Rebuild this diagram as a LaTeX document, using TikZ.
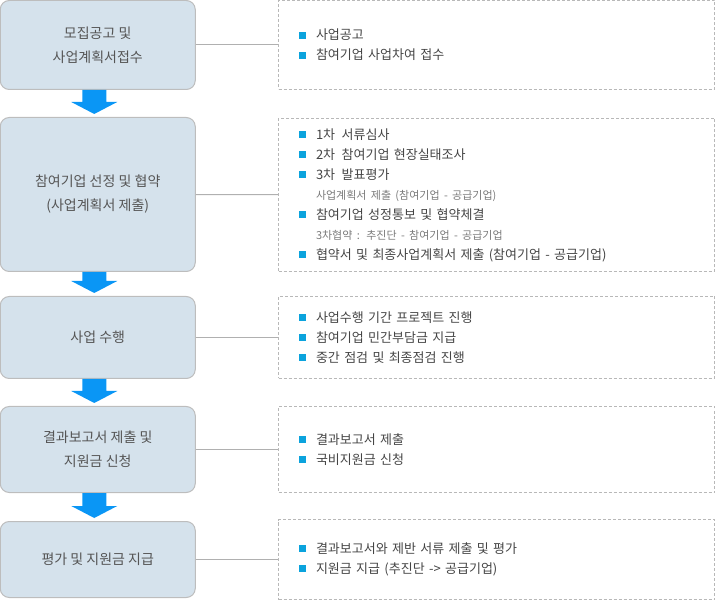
\documentclass[tikz,border=0pt]{standalone}
\usepackage{fontspec}
\setmainfont{Noto Sans CJK KR}

\definecolor{stepfill}{HTML}{D5E2EC}
\definecolor{stepline}{HTML}{BDBDBD}
\definecolor{steptxt}{HTML}{555555}
\definecolor{noteline}{HTML}{B8B8B8}
\definecolor{notetxt}{HTML}{454545}
\definecolor{subtxt}{HTML}{7A7A7A}
\definecolor{linkgray}{HTML}{B0B0B0}
\definecolor{flowblue}{HTML}{0A96F5}
\definecolor{dotblue}{HTML}{0BA3DD}

\newcommand{\itm}[1]{\textcolor{dotblue}{\raisebox{1.2pt}{\rule{7pt}{7pt}}}\hspace{10pt}#1}
\newcommand{\itmnote}[1]{\hspace*{17pt}{\fontsize{11pt}{20pt}\selectfont\color{subtxt}#1}}

\tikzset{
	stepbox/.style={draw=stepline,fill=stepfill,line width=1pt,rounded corners=9pt,minimum width=195pt,align=center,text=steptxt,font=\fontsize{14pt}{24pt}\selectfont},
	notebox/.style={draw=noteline,line width=1pt,dash pattern=on 3pt off 2pt,text width=395pt,inner xsep=20.5pt,align=left,text=notetxt,font=\fontsize{13pt}{20pt}\selectfont},
	link/.style={draw=linkgray,line width=1pt},
	flow/.style={fill=flowblue}
}

\begin{document}
\begin{tikzpicture}[x=1pt,y=-1pt]
	\useasboundingbox (0,0) rectangle (715,601);

	\node[stepbox,minimum height=89pt](b1) at (97.75,45) {모집공고 및\\사업계획서접수};
	\node[stepbox,minimum height=154pt](b2) at (97.75,194.5) {참여기업 선정 및 협약\\(사업계획서 제출)};
	\node[stepbox,minimum height=82pt](b3) at (97.75,337.5) {사업 수행};
	\node[stepbox,minimum height=86pt](b4) at (97.75,449.5) {결과보고서 제출 및\\지원금 신청};
	\node[stepbox,minimum height=76pt](b5) at (97.75,559.5) {평가 및 지원금 지급};

	\node[notebox,minimum height=89pt](r1) at (496.5,45) {\itm{사업공고}\\\itm{참여기업 사업차여 접수}};
	\node[notebox,minimum height=153pt](r2) at (496.5,195) {\itm{1차\, 서류심사}\\\itm{2차\, 참여기업 현장실태조사}\\\itm{3차\, 발표평가}\\\itmnote{사업계획서 제출 (참여기업 - 공급기업)}\\\itm{참여기업 성정통보 및 협약체결}\\\itmnote{3차협약 : 추진단 - 참여기업 - 공급기업}\\\itm{협약서 및 최종사업계획서 제출 (참여기업 - 공급기업)}};
	\node[notebox,minimum height=82pt](r3) at (496.5,337.5) {\itm{사업수행 기간 프로젝트 진행}\\\itm{참여기업 민간부담금 지급}\\\itm{중간 점검 및 최종점검 진행}};
	\node[notebox,minimum height=86pt](r4) at (496.5,449.5) {\itm{결과보고서 제출}\\\itm{국비지원금 신청}};
	\node[notebox,minimum height=80pt](r5) at (496.5,559.5) {\itm{결과보고서와 제반 서류 제출 및 평가}\\\itm{지원금 지급 (추진단 -> 공급기업)}};

	\foreach \n in {1,...,5}
		\draw[link] (b\n) -- (r\n);

	\foreach \a/\b in {b1/b2,b2/b3,b3/b4,b4/b5}
		\fill[flow] ([xshift=-15.5]\a.south) -- ([xshift=8.5]\a.south) -- ([xshift=8.5,yshift=15]\b.north) -- ([xshift=19.5,yshift=15]\b.north) -- ([xshift=-3.5,yshift=3]\b.north) -- ([xshift=-26.5,yshift=15]\b.north) -- ([xshift=-15.5,yshift=15]\b.north) -- cycle;
\end{tikzpicture}
\end{document}
